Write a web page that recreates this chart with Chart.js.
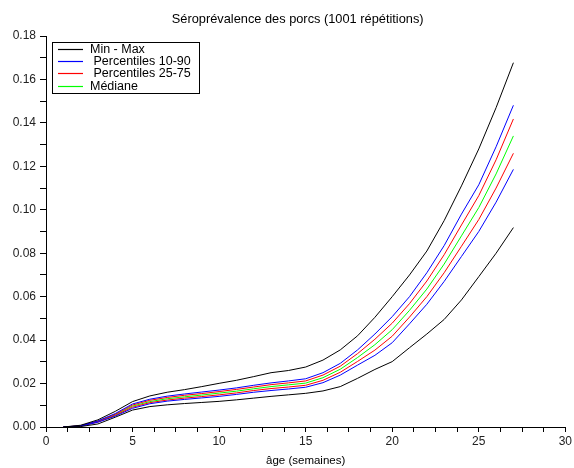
<!DOCTYPE html>
<html>
<head>
<meta charset="utf-8">
<script src="https://cdn.jsdelivr.net/npm/chart.js@4"></script>
<style>
    html, body { margin: 0; padding: 0; background: #fff; }
    #wrap { width: 574px; height: 468px; }
</style>
</head>
<body>
<div id="wrap"><canvas id="chart"></canvas></div>
<script>
// semaines
const weeks = [1, 2, 3, 4, 5, 6, 7, 8, 9, 10, 11, 12, 13, 14, 15, 16, 17, 18, 19, 20, 21, 22, 23, 24, 25, 26, 27];

const minValues = [0, 0.0002, 0.0014, 0.0045, 0.0078, 0.0094, 0.0102, 0.0108, 0.0113, 0.0118, 0.0125, 0.0133, 0.0141, 0.0148,
    0.0155, 0.0166, 0.0186, 0.0224, 0.0265, 0.0301, 0.0365, 0.0428, 0.0495, 0.0585, 0.0692, 0.0800, 0.0918];
const p10Values = [0, 0.0004, 0.0022, 0.0050, 0.0086, 0.0107, 0.0119, 0.0127, 0.0134, 0.0141, 0.0150, 0.0160, 0.0168, 0.0175,
    0.0183, 0.0204, 0.0239, 0.0285, 0.0330, 0.0388, 0.0475, 0.0565, 0.0670, 0.0785, 0.0900, 0.1035, 0.1186];
const p25Values = [0, 0.00045, 0.0023, 0.0053, 0.0091, 0.0112, 0.0124, 0.0133, 0.0140, 0.0148, 0.0157, 0.0168, 0.0177, 0.0184,
    0.0192, 0.0215, 0.0252, 0.0302, 0.0354, 0.0418, 0.0506, 0.0600, 0.0710, 0.0832, 0.0955, 0.1100, 0.1260];
const medianValues = [0, 0.0005, 0.0025, 0.0056, 0.0096, 0.0117, 0.0130, 0.0139, 0.0147, 0.0156, 0.0165, 0.0176, 0.0186, 0.0194,
    0.0202, 0.0227, 0.0266, 0.0320, 0.0379, 0.0448, 0.0537, 0.0635, 0.0750, 0.0880, 0.1010, 0.1165, 0.1340];
const p75Values = [0, 0.00055, 0.0027, 0.0059, 0.0101, 0.0123, 0.0136, 0.0146, 0.0154, 0.0163, 0.0173, 0.0184, 0.0195, 0.0203,
    0.0212, 0.0239, 0.0280, 0.0338, 0.0404, 0.0478, 0.0568, 0.0672, 0.0793, 0.0930, 0.1065, 0.1230, 0.1418];
const p90Values = [0, 0.0006, 0.0028, 0.0062, 0.0106, 0.0128, 0.0142, 0.0152, 0.0161, 0.0170, 0.0180, 0.0192, 0.0203, 0.0212,
    0.0222, 0.0250, 0.0293, 0.0355, 0.0428, 0.0508, 0.0600, 0.0710, 0.0835, 0.0980, 0.1115, 0.1290, 0.1481];
const maxValues = [0, 0.0008, 0.0033, 0.0072, 0.0117, 0.0143, 0.0160, 0.0172, 0.0186, 0.0201, 0.0215, 0.0232, 0.0250, 0.0260,
    0.0276, 0.0308, 0.0355, 0.0420, 0.0505, 0.0600, 0.0700, 0.0810, 0.0950, 0.1110, 0.1280, 0.1470, 0.1677];

const legendLabels = ['Min - Max', ' Percentiles 10-90', ' Percentiles 25-75', 'Médiane'];
const legendColors = ['#000000', '#0000ff', '#ff0000', '#00ff00'];

const titleText = 'Séroprévalence des porcs (1001 répétitions)';
const xTitle = 'âge (semaines)';

const FONT = '"Liberation Sans", Arial, sans-serif';

function serie(values, color) {
    return {
        data: weeks.map((w, i) => ({ x: w, y: values[i] })),
        borderColor: color,
        borderWidth: 1,
        pointRadius: 0,
        tension: 0,
        fill: false
    };
}

// titre + légende dessinés à la main (style scilab)
const scilabDecor = {
    id: 'scilabDecor',
    afterDraw(chart) {
        const ctx = chart.ctx;
        const area = chart.chartArea;
        ctx.save();
        ctx.fillStyle = '#000';
        ctx.font = '12.8px ' + FONT;
        ctx.textAlign = 'center';
        ctx.textBaseline = 'middle';
        ctx.fillText(titleText, (area.left + area.right) / 2 - 8, 19);

        // boite de légende
        const bx = 52.5, by = 42.5, bw = 147, bh = 51;
        ctx.fillStyle = '#fff';
        ctx.fillRect(bx, by, bw, bh);
        ctx.strokeStyle = '#000';
        ctx.lineWidth = 1;
        ctx.strokeRect(bx, by, bw, bh);
        const rows = [49.5, 61.5, 73.5, 86.5];
        ctx.font = '12.5px ' + FONT;
        ctx.textAlign = 'left';
        legendLabels.forEach((lab, i) => {
            ctx.strokeStyle = legendColors[i];
            ctx.lineWidth = 1.2;
            ctx.beginPath();
            ctx.moveTo(58, rows[i]);
            ctx.lineTo(83, rows[i]);
            ctx.stroke();
            ctx.fillStyle = '#000';
            ctx.fillText(lab, 90, rows[i] + 0.5);
        });
        ctx.restore();
    }
};

new Chart(document.getElementById('chart'), {
    type: 'line',
    data: {
        datasets: [
            serie(minValues, '#000000'),
            serie(maxValues, '#000000'),
            serie(p10Values, '#0000ff'),
            serie(p90Values, '#0000ff'),
            serie(p25Values, '#ff0000'),
            serie(p75Values, '#ff0000'),
            serie(medianValues, '#00ff00')
        ]
    },
    options: {
        responsive: true,
        maintainAspectRatio: false,
        animation: false,
        layout: { padding: { top: 36, right: 7, left: 0, bottom: 0 } },
        plugins: {
            legend: { display: false },
            title: { display: false },
            tooltip: { enabled: false }
        },
        scales: {
            x: {
                type: 'linear',
                min: 0,
                max: 30,
                afterFit: (s) => { s.height = 41; },
                ticks: {
                    stepSize: 1.25,
                    autoSkip: false,
                    maxRotation: 0,
                    padding: 2,
                    color: '#222',
                    font: { family: FONT, size: 12 },
                    callback: (v) => (v % 5 === 0 ? v : '')
                },
                grid: { drawOnChartArea: false, tickLength: 5, color: '#000' },
                border: { color: '#000' },
                title: {
                    display: true,
                    text: xTitle,
                    color: '#000',
                    font: { family: FONT, size: 11.5 },
                    padding: { top: 0, bottom: 0 }
                }
            },
            y: {
                min: 0,
                max: 0.18,
                afterFit: (s) => { s.width = 46; },
                ticks: {
                    stepSize: 0.01,
                    autoSkip: false,
                    padding: 4,
                    color: '#222',
                    font: { family: FONT, size: 12 },
                    callback: (v) => (Math.round(v * 100) % 2 === 0 ? v.toFixed(2) : '')
                },
                grid: { drawOnChartArea: false, tickLength: 6, color: '#000' },
                border: { color: '#000' }
            }
        }
    },
    plugins: [scilabDecor]
});
</script>
</body>
</html>
